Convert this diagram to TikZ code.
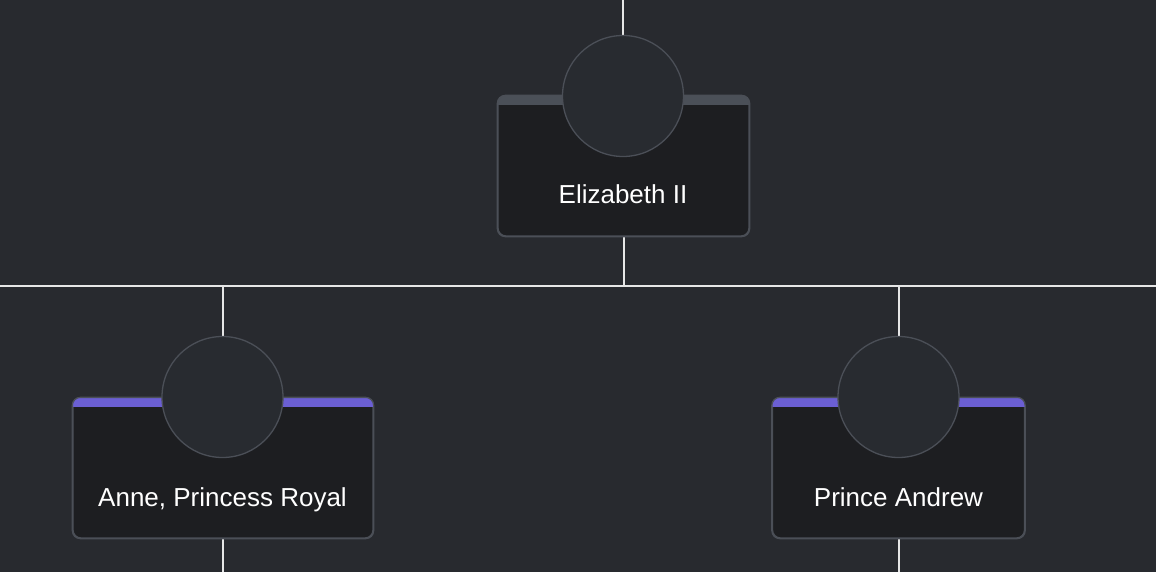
\documentclass[tikz,border=0pt]{standalone}
\usepackage{fontspec}
\setmainfont{Liberation Sans}
\usetikzlibrary{backgrounds}
\definecolor{bg}{HTML}{282A2F}
\definecolor{cardfill}{HTML}{1D1E21}
\definecolor{cardline}{HTML}{4B4F57}
\definecolor{circfill}{HTML}{282B30}
\definecolor{bandgray}{HTML}{4B5058}
\definecolor{bandpurple}{HTML}{6B5FD3}
\definecolor{wire}{HTML}{E6E6E6}
\tikzset{
  cardbox/.style={draw=cardline, line width=1.3pt, fill=cardfill, rounded corners=8pt, minimum height=140pt, inner sep=0pt},
  avatar/.style={circle, draw=cardline, line width=1.3pt, fill=circfill, minimum size=121pt, inner sep=0pt},
  nametext/.style={text=white, font=\fontsize{26}{30}\selectfont, inner sep=0pt, anchor=base},
  wireline/.style={draw=wire, line width=2pt},
}
\newcommand{\cardband}[2]{%
  \begin{scope}
    \clip[rounded corners=8pt] (#1.south west) rectangle (#1.north east);
    \fill[#2] (#1.north west) rectangle ([yshift=-10pt]#1.north east);
  \end{scope}
  \draw[cardline, line width=1.3pt, rounded corners=8pt] (#1.south west) rectangle (#1.north east);
}
\begin{document}
\begin{tikzpicture}[x=1pt, y=-1pt]
\useasboundingbox (0,0) rectangle (1156,572);

% coordinates
\coordinate (topend) at (623,0);
\coordinate (busL) at (0,286);
\coordinate (busR) at (1156,286);
\coordinate (bottomedge) at (0,572);

% cards
\node[cardbox, minimum width=251pt] (ecard) at (623.5,166) {};
\node[cardbox, minimum width=300pt] (acard) at (223,468) {};
\node[cardbox, minimum width=252pt] (pcard) at (898.5,468) {};

\cardband{ecard}{bandgray}
\cardband{acard}{bandpurple}
\cardband{pcard}{bandpurple}

% avatars
\node[avatar] (ecirc) at (623,96) {};
\node[avatar] (acirc) at (222.5,397) {};
\node[avatar] (pcirc) at (898.5,397) {};

% names
\node[nametext] (ename) at (623,204) {Elizabeth II};
\node[nametext] (aname) at (222.5,506) {Anne, Princess Royal};
\node[nametext] (pname) at (898.5,506) {Prince Andrew};

% wires (behind)
\begin{pgfonlayer}{background}
\fill[bg] (0,0) rectangle (1156,572);
\draw[wireline] (busL) -- (busR);
\draw[wireline] (topend) -- (ecirc.north);
\draw[wireline] (ecard.south) -- (ecard.south |- busL);
\draw[wireline] (acirc.north |- busL) -- (acirc.north);
\draw[wireline] (pcirc.north |- busL) -- (pcirc.north);
\draw[wireline] (acirc.north |- acard.south) -- (acirc.north |- bottomedge);
\draw[wireline] (pcirc.north |- pcard.south) -- (pcirc.north |- bottomedge);
\end{pgfonlayer}
\end{tikzpicture}
\end{document}
